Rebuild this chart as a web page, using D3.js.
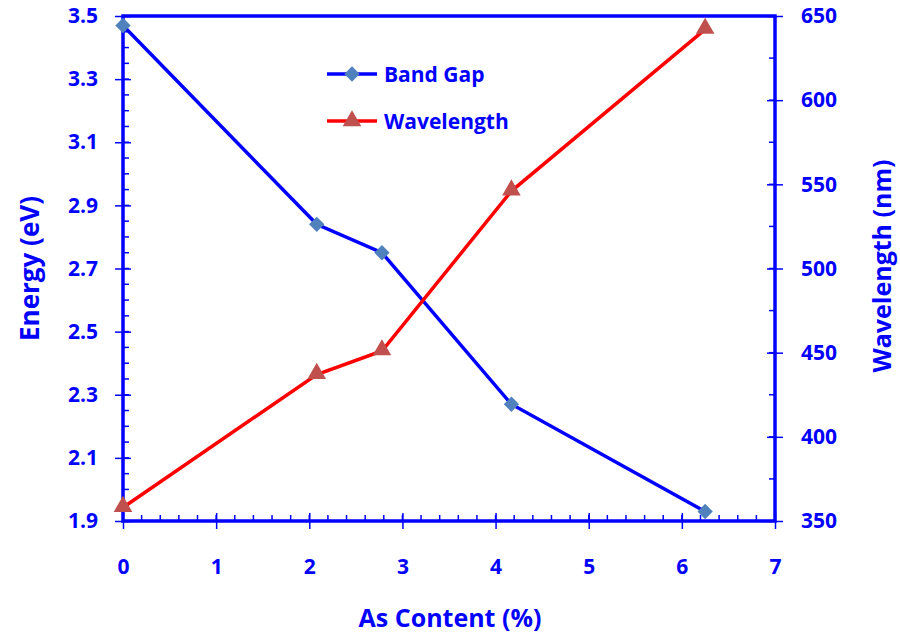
<!DOCTYPE html>
<html>
<head>
<meta charset="utf-8">
<script src="https://cdn.jsdelivr.net/npm/d3@7"></script>
<style>
  body { margin: 0; background: #fff; }
  svg { display: block; }
  svg text { font-family: "Open Sans", "Noto Sans", sans-serif; font-weight: bold; }
</style>
</head>
<body>
<div id="chart"></div>
<script>
// data
const asContent = [0, 2.08, 2.78, 4.17, 6.25];
const bandGap = [3.47, 2.84, 2.75, 2.27, 1.93];
const wavelength = [358, 437, 451, 546, 642];
const xTicks = [0, 1, 2, 3, 4, 5, 6, 7];
const leftTicks = [1.9, 2.1, 2.3, 2.5, 2.7, 2.9, 3.1, 3.3, 3.5];
const rightTicks = [350, 400, 450, 500, 550, 600, 650];

const width = 900, height = 633;
const margin = { top: 16, right: 125, bottom: 112, left: 123 };
const blue = "#0000ff";

const svg = d3.select("#chart").append("svg")
    .attr("width", width)
    .attr("height", height);

const x = d3.scaleLinear().domain([0, 7]).range([margin.left, width - margin.right]);
const yL = d3.scaleLinear().domain([1.9, 3.5]).range([height - margin.bottom, margin.top]);
const yR = d3.scaleLinear().domain([350, 650]).range([height - margin.bottom, margin.top]);

const x0 = x(0), x1 = x(7), yb = yL(1.9), yt = yL(3.5);

// minor ticks (inside)
const g = svg.append("g").attr("stroke", blue).attr("stroke-width", 1.5);
d3.range(0, 7.001, 0.2).forEach(v => {
  g.append("line").attr("x1", x(v)).attr("x2", x(v)).attr("y1", yb).attr("y2", yb - 6);
});
d3.range(1.9, 3.501, 0.05).forEach(v => {
  g.append("line").attr("x1", x0).attr("x2", x0 + 6).attr("y1", yL(v)).attr("y2", yL(v));
});
d3.range(350, 651, 25).forEach(v => {
  g.append("line").attr("x1", x1).attr("x2", x1 - 6).attr("y1", yR(v)).attr("y2", yR(v));
});

// axes with crossing major ticks
const styleAxis = sel => {
  sel.attr("font-family", null).attr("font-size", null);
  sel.select(".domain").remove();
  sel.selectAll(".tick line").attr("stroke", blue).attr("stroke-width", 1.5);
  sel.selectAll(".tick text").attr("fill", blue).style("font-size", "21px");
};

svg.append("g")
  .attr("transform", `translate(0,${yb})`)
  .call(d3.axisBottom(x).tickValues(xTicks).tickFormat(d3.format("d")).tickSizeInner(8).tickSizeOuter(0).tickPadding(30))
  .call(styleAxis)
  .call(s => s.selectAll(".tick line").attr("y1", -8));

svg.append("g")
  .attr("transform", `translate(${x0},0)`)
  .call(d3.axisLeft(yL).tickValues(leftTicks).tickFormat(d3.format(".1f")).tickSizeInner(8).tickSizeOuter(0).tickPadding(17))
  .call(styleAxis)
  .call(s => s.selectAll(".tick line").attr("x1", 8));

svg.append("g")
  .attr("transform", `translate(${x1},0)`)
  .call(d3.axisRight(yR).tickValues(rightTicks).tickFormat(d3.format("d")).tickSizeInner(8).tickSizeOuter(0).tickPadding(18))
  .call(styleAxis)
  .call(s => s.selectAll(".tick line").attr("x1", -8));

// frame: left, bottom, right axis lines and top border
svg.append("path")
  .attr("d", `M${x0},${yt}V${yb}H${x1}V${yt}Z`)
  .attr("fill", "none")
  .attr("stroke", blue)
  .attr("stroke-width", 3.5);

// series
const bandPts = asContent.map((d, i) => [x(d), yL(bandGap[i])]);
const wavePts = asContent.map((d, i) => [x(d), yR(wavelength[i])]);

svg.append("path").attr("d", d3.line()(bandPts))
  .attr("fill", "none").attr("stroke", blue).attr("stroke-width", 3.5);
svg.append("path").attr("d", d3.line()(wavePts))
  .attr("fill", "none").attr("stroke", "#ff0000").attr("stroke-width", 3.5);

const diamond = d3.symbol().type(d3.symbolDiamond2).size(150);
const triangle = d3.symbol().type(d3.symbolTriangle).size(150);

svg.append("g").selectAll("path").data(bandPts).join("path")
  .attr("d", diamond)
  .attr("transform", d => `translate(${d[0]},${d[1]})`)
  .attr("fill", "#4f81bd");
svg.append("g").selectAll("path").data(wavePts).join("path")
  .attr("d", triangle)
  .attr("transform", d => `translate(${d[0]},${d[1] - 1})`)
  .attr("fill", "#c0504d");

// legend
const legend = [
  { name: "Band Gap", color: blue, sym: diamond, fill: "#4f81bd", y: 74 },
  { name: "Wavelength", color: "#ff0000", sym: triangle, fill: "#c0504d", y: 121 }
];
legend.forEach(l => {
  svg.append("line").attr("x1", 327).attr("x2", 377).attr("y1", l.y).attr("y2", l.y)
    .attr("stroke", l.color).attr("stroke-width", 3.5);
  svg.append("path").attr("d", l.sym).attr("transform", `translate(352,${l.y})`).attr("fill", l.fill);
  svg.append("text").attr("x", 384).attr("y", l.y).attr("dy", "0.36em")
    .attr("fill", blue).style("font-size", "21px").text(l.name);
});

// axis titles
svg.append("text")
  .attr("transform", `translate(39,${(yt + yb) / 2}) rotate(-90)`)
  .attr("text-anchor", "middle")
  .attr("fill", blue).style("font-size", "26px")
  .text("Energy (eV)");

svg.append("text")
  .attr("transform", `translate(891,266) rotate(-90)`)
  .attr("text-anchor", "middle")
  .attr("fill", blue).style("font-size", "25px")
  .text("Wavelength (nm)");

svg.append("text")
  .attr("x", 450)
  .attr("y", 627)
  .attr("text-anchor", "middle")
  .attr("fill", blue).style("font-size", "25px")
  .text("As Content (%)");
</script>
</body>
</html>
